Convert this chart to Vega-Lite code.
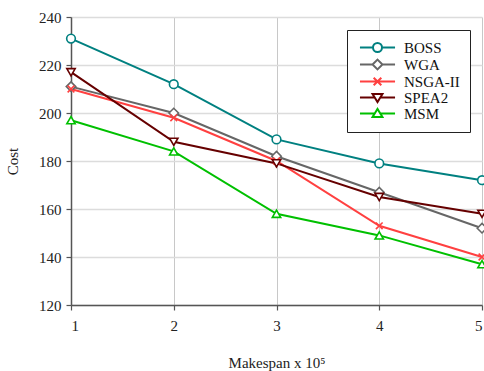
{
  "$schema": "https://vega.github.io/schema/vega-lite/v6.json",
  "autosize": "none",
  "width": 411,
  "height": 288,
  "padding": {"left": 71, "top": 17, "right": 2, "bottom": 66},
  "background": "white",
  "config": {
    "view": {"stroke": null},
    "font": "Liberation Serif",
    "axis": {"labelFont": "Liberation Serif", "titleFont": "Liberation Serif", "labelColor": "#222", "titleColor": "#222", "labelFontSize": 15, "titleFontSize": 15, "titleFontWeight": "normal", "domainColor": "#555", "domainWidth": 1.5, "tickColor": "#555", "tickWidth": 1.2, "tickSize": 5}
  },
  "data": {"values": [
    {"x": 1, "algo": "BOSS", "cost": 231}, {"x": 2, "algo": "BOSS", "cost": 212}, {"x": 3, "algo": "BOSS", "cost": 189}, {"x": 4, "algo": "BOSS", "cost": 179}, {"x": 5, "algo": "BOSS", "cost": 172},
    {"x": 1, "algo": "WGA", "cost": 211}, {"x": 2, "algo": "WGA", "cost": 200}, {"x": 3, "algo": "WGA", "cost": 182}, {"x": 4, "algo": "WGA", "cost": 167}, {"x": 5, "algo": "WGA", "cost": 152},
    {"x": 1, "algo": "NSGA-II", "cost": 210}, {"x": 2, "algo": "NSGA-II", "cost": 198}, {"x": 3, "algo": "NSGA-II", "cost": 180}, {"x": 4, "algo": "NSGA-II", "cost": 153}, {"x": 5, "algo": "NSGA-II", "cost": 140},
    {"x": 1, "algo": "SPEA2", "cost": 217}, {"x": 2, "algo": "SPEA2", "cost": 188}, {"x": 3, "algo": "SPEA2", "cost": 179}, {"x": 4, "algo": "SPEA2", "cost": 165}, {"x": 5, "algo": "SPEA2", "cost": 158},
    {"x": 1, "algo": "MSM", "cost": 197}, {"x": 2, "algo": "MSM", "cost": 184}, {"x": 3, "algo": "MSM", "cost": 158}, {"x": 4, "algo": "MSM", "cost": 149}, {"x": 5, "algo": "MSM", "cost": 137}
  ]},
  "encoding": {
    "x": {"field": "x", "type": "quantitative", "scale": {"domain": [1, 5], "nice": false, "zero": false},
      "axis": {"values": [1, 2, 3, 4, 5], "format": "d", "title": "Makespan x 10⁵", "labelPadding": 8, "titlePadding": 22, "gridColor": "#c8c8c8", "gridWidth": 1}},
    "y": {"field": "cost", "type": "quantitative", "scale": {"domain": [120, 240], "nice": false, "zero": false},
      "axis": {"values": [120, 140, 160, 180, 200, 220, 240], "title": "Cost", "labelPadding": 5, "titlePadding": 18, "gridColor": "#dcdcdc", "gridWidth": 1.5}},
    "color": {"field": "algo", "type": "nominal",
      "scale": {"domain": ["BOSS", "WGA", "NSGA-II", "SPEA2", "MSM"], "range": ["#008080", "#666666", "#ff4040", "#660000", "#00c000"]},
      "legend": {"title": null, "orient": "none", "legendX": 276, "legendY": 13, "strokeColor": "#222", "fillColor": "white", "padding": 10,
        "labelFont": "Liberation Serif", "labelFontSize": 15, "labelColor": "#111", "symbolSize": 81, "symbolOffset": 13, "rowPadding": -1, "labelOffset": 19,
        "encode": {"symbols": {"update": {
          "shape": {"signal": "datum.value === 'BOSS' ? 'M-3.9,0H-1M1,0H3.9M1,0A1,1 0 1,1 -1,0A1,1 0 1,1 1,0' : datum.value === 'WGA' ? 'M-3.9,0H-1.1M1.1,0H3.9M-1.1,0L0,-1.1L1.1,0L0,1.1Z' : datum.value === 'NSGA-II' ? 'M-3.9,0H3.9M-0.85,-0.85L0.85,0.85M-0.85,0.85L0.85,-0.85' : datum.value === 'SPEA2' ? 'M-3.9,0H-0.61M0.61,0H3.9M-1.1,-0.8H1.1L0,1Z' : 'M-3.9,0H-0.61M0.61,0H3.9M-1.1,0.8H1.1L0,-1Z'"},
          "fill": {"value": "white"},
          "strokeWidth": {"value": 2},
          "opacity": {"value": 1}
        }}}}
    }
  },
  "layer": [
    {"mark": {"type": "line", "strokeWidth": 2}, "encoding": {"detail": {"field": "algo"}}},
    {"transform": [{"filter": "datum.algo === 'BOSS'"}], "mark": {"type": "point", "shape": "circle", "filled": false, "fill": "white", "fillOpacity": 1, "opacity": 1, "strokeWidth": 1.6, "size": 75}},
    {"transform": [{"filter": "datum.algo === 'WGA'"}], "mark": {"type": "point", "shape": "diamond", "filled": false, "fill": "white", "fillOpacity": 1, "opacity": 1, "strokeWidth": 1.6, "size": 90}},
    {"transform": [{"filter": "datum.algo === 'NSGA-II'"}], "mark": {"type": "point", "shape": "M-1,-1L1,1M-1,1L1,-1", "filled": false, "fill": "white", "fillOpacity": 1, "opacity": 1, "strokeWidth": 1.6, "size": 45}},
    {"transform": [{"filter": "datum.algo === 'SPEA2'"}], "mark": {"type": "point", "shape": "triangle-down", "filled": false, "fill": "white", "fillOpacity": 1, "opacity": 1, "strokeWidth": 1.6, "size": 70}},
    {"transform": [{"filter": "datum.algo === 'MSM'"}], "mark": {"type": "point", "shape": "triangle-up", "filled": false, "fill": "white", "fillOpacity": 1, "opacity": 1, "strokeWidth": 1.6, "size": 70}}
  ]
}
